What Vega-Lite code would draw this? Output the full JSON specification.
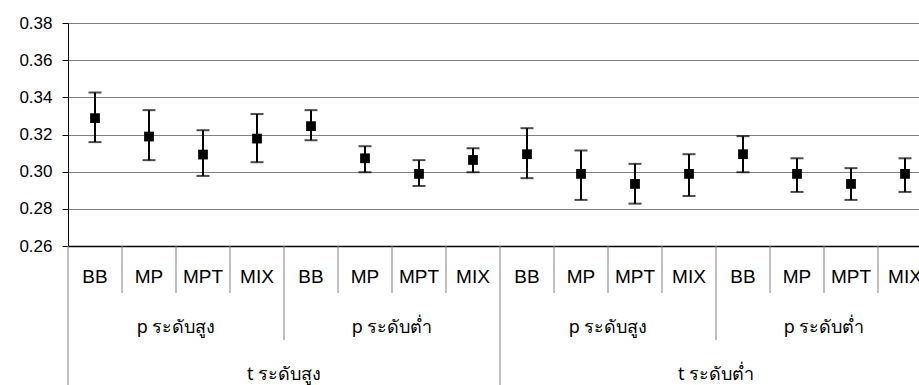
{
  "$schema": "https://vega.github.io/schema/vega-lite/v6.json",
  "width": 851,
  "height": 223,
  "autosize": {"type": "none"},
  "padding": {"left": 68, "top": 23, "right": 0, "bottom": 139},
  "config": {
    "view": {"stroke": null},
    "font": "Liberation Sans",
    "axisY": {"labelOverlap": false, "grid": true, "gridColor": "#808080", "gridWidth": 1, "gridOpacity": 1, "domainColor": "#000000", "domainWidth": 1, "tickColor": "#000000", "tickSize": 6, "labelPadding": 10, "labelFontSize": 17, "labelColor": "#000000", "labelFont": "Liberation Sans", "titlePadding": 0},
    "axisX": {"labels": false, "ticks": false, "grid": false, "domainColor": "#000000", "domainWidth": 1.5}
  },
  "datasets": {
    "points": [
      {"i": 0.5, "method": "BB", "p": "p ระดับสูง", "t": "t ระดับสูง", "mean": 0.3288, "lo": 0.3159, "hi": 0.3426},
      {"i": 1.5, "method": "MP", "p": "p ระดับสูง", "t": "t ระดับสูง", "mean": 0.3189, "lo": 0.3062, "hi": 0.3331},
      {"i": 2.5, "method": "MPT", "p": "p ระดับสูง", "t": "t ระดับสูง", "mean": 0.3092, "lo": 0.2977, "hi": 0.3223},
      {"i": 3.5, "method": "MIX", "p": "p ระดับสูง", "t": "t ระดับสูง", "mean": 0.3178, "lo": 0.3051, "hi": 0.3310},
      {"i": 4.5, "method": "BB", "p": "p ระดับต่ำ", "t": "t ระดับสูง", "mean": 0.3245, "lo": 0.3169, "hi": 0.3331},
      {"i": 5.5, "method": "MP", "p": "p ระดับต่ำ", "t": "t ระดับสูง", "mean": 0.3072, "lo": 0.2997, "hi": 0.3137},
      {"i": 6.5, "method": "MPT", "p": "p ระดับต่ำ", "t": "t ระดับสูง", "mean": 0.2988, "lo": 0.2923, "hi": 0.3062},
      {"i": 7.5, "method": "MIX", "p": "p ระดับต่ำ", "t": "t ระดับสูง", "mean": 0.3063, "lo": 0.2997, "hi": 0.3126},
      {"i": 8.5, "method": "BB", "p": "p ระดับสูง", "t": "t ระดับต่ำ", "mean": 0.3094, "lo": 0.2965, "hi": 0.3234},
      {"i": 9.5, "method": "MP", "p": "p ระดับสูง", "t": "t ระดับต่ำ", "mean": 0.2988, "lo": 0.2848, "hi": 0.3114},
      {"i": 10.5, "method": "MPT", "p": "p ระดับสูง", "t": "t ระดับต่ำ", "mean": 0.2934, "lo": 0.2828, "hi": 0.3042},
      {"i": 11.5, "method": "MIX", "p": "p ระดับสูง", "t": "t ระดับต่ำ", "mean": 0.2988, "lo": 0.2869, "hi": 0.3094},
      {"i": 12.5, "method": "BB", "p": "p ระดับต่ำ", "t": "t ระดับต่ำ", "mean": 0.3094, "lo": 0.2997, "hi": 0.3191},
      {"i": 13.5, "method": "MP", "p": "p ระดับต่ำ", "t": "t ระดับต่ำ", "mean": 0.2988, "lo": 0.2891, "hi": 0.3072},
      {"i": 14.5, "method": "MPT", "p": "p ระดับต่ำ", "t": "t ระดับต่ำ", "mean": 0.2934, "lo": 0.2848, "hi": 0.3019},
      {"i": 15.5, "method": "MIX", "p": "p ระดับต่ำ", "t": "t ระดับต่ำ", "mean": 0.2988, "lo": 0.2891, "hi": 0.3072}
    ],
    "dividers": [
      {"i": 1, "level": "m"}, {"i": 2, "level": "m"}, {"i": 3, "level": "m"},
      {"i": 5, "level": "m"}, {"i": 6, "level": "m"}, {"i": 7, "level": "m"},
      {"i": 9, "level": "m"}, {"i": 10, "level": "m"}, {"i": 11, "level": "m"},
      {"i": 13, "level": "m"}, {"i": 14, "level": "m"}, {"i": 15, "level": "m"},
      {"i": 4, "level": "p"}, {"i": 12, "level": "p"},
      {"i": 0, "level": "t"}, {"i": 8, "level": "t"}, {"i": 16, "level": "t"}
    ]
  },
  "layer": [
    {
      "data": {"name": "points"},
      "mark": {"type": "rule", "color": "#000000", "strokeWidth": 2},
      "encoding": {
        "x": {"field": "i", "type": "quantitative", "scale": {"domain": [0, 16], "range": [0, 864], "nice": false, "zero": false}, "axis": {"title": null}},
        "y": {"field": "lo", "type": "quantitative", "scale": {"domain": [0.26, 0.38], "nice": false, "zero": false},
              "axis": {"title": null, "values": [0.26, 0.28, 0.3, 0.32, 0.34, 0.36, 0.38], "format": ".2f", "tickCount": 7}},
        "y2": {"field": "hi"}
      }
    },
    {
      "data": {"name": "points"},
      "transform": [{"fold": ["lo", "hi"], "as": ["end", "val"]}],
      "mark": {"type": "tick", "orient": "horizontal", "color": "#000000", "size": 13, "thickness": 2},
      "encoding": {
        "x": {"field": "i", "type": "quantitative", "axis": {"title": null}},
        "y": {"field": "val", "type": "quantitative", "axis": {"title": null, "values": [0.26, 0.28, 0.3, 0.32, 0.34, 0.36, 0.38], "format": ".2f", "tickCount": 7}}
      }
    },
    {
      "data": {"name": "points"},
      "mark": {"type": "point", "shape": "square", "filled": true, "color": "#000000", "size": 95, "opacity": 1},
      "encoding": {
        "x": {"field": "i", "type": "quantitative", "axis": {"title": null}},
        "y": {"field": "mean", "type": "quantitative", "axis": {"title": null, "values": [0.26, 0.28, 0.3, 0.32, 0.34, 0.36, 0.38], "format": ".2f", "tickCount": 7}}
      }
    },
    {
      "data": {"name": "dividers"},
      "transform": [{"filter": "datum.level === 'm'"}],
      "mark": {"type": "rule", "color": "#808080", "strokeWidth": 1, "y2Offset": 47, "clip": false},
      "encoding": {
        "x": {"field": "i", "type": "quantitative", "axis": {"title": null}},
        "y": {"datum": 0.26, "type": "quantitative"},
        "y2": {"datum": 0.26}
      }
    },
    {
      "data": {"name": "dividers"},
      "transform": [{"filter": "datum.level === 'p'"}],
      "mark": {"type": "rule", "color": "#808080", "strokeWidth": 1, "y2Offset": 94, "clip": false},
      "encoding": {
        "x": {"field": "i", "type": "quantitative", "axis": {"title": null}},
        "y": {"datum": 0.26, "type": "quantitative"},
        "y2": {"datum": 0.26}
      }
    },
    {
      "data": {"name": "dividers"},
      "transform": [{"filter": "datum.level === 't'"}],
      "mark": {"type": "rule", "color": "#808080", "strokeWidth": 1, "y2Offset": 139, "clip": false},
      "encoding": {
        "x": {"field": "i", "type": "quantitative", "axis": {"title": null}},
        "y": {"datum": 0.26, "type": "quantitative"},
        "y2": {"datum": 0.26}
      }
    },
    {
      "data": {"name": "points"},
      "mark": {"type": "text", "fontSize": 19, "dy": 30.5, "baseline": "middle", "align": "center", "color": "#000000", "clip": false},
      "encoding": {
        "x": {"field": "i", "type": "quantitative", "axis": {"title": null}},
        "y": {"datum": 0.26, "type": "quantitative"},
        "text": {"field": "method"}
      }
    },
    {
      "data": {"name": "points"},
      "transform": [{"aggregate": [{"op": "mean", "field": "i", "as": "i"}], "groupby": ["t", "p"]}],
      "mark": {"type": "text", "fontSize": 18, "dy": 82, "baseline": "middle", "align": "center", "color": "#000000", "clip": false, "font": "Noto Sans"},
      "encoding": {
        "x": {"field": "i", "type": "quantitative", "axis": {"title": null}},
        "y": {"datum": 0.26, "type": "quantitative"},
        "text": {"field": "p"}
      }
    },
    {
      "data": {"name": "points"},
      "transform": [{"aggregate": [{"op": "mean", "field": "i", "as": "i"}], "groupby": ["t"]}],
      "mark": {"type": "text", "fontSize": 18, "dy": 129, "baseline": "middle", "align": "center", "color": "#000000", "clip": false, "font": "Noto Sans"},
      "encoding": {
        "x": {"field": "i", "type": "quantitative", "axis": {"title": null}},
        "y": {"datum": 0.26, "type": "quantitative"},
        "text": {"field": "t"}
      }
    }
  ]
}
